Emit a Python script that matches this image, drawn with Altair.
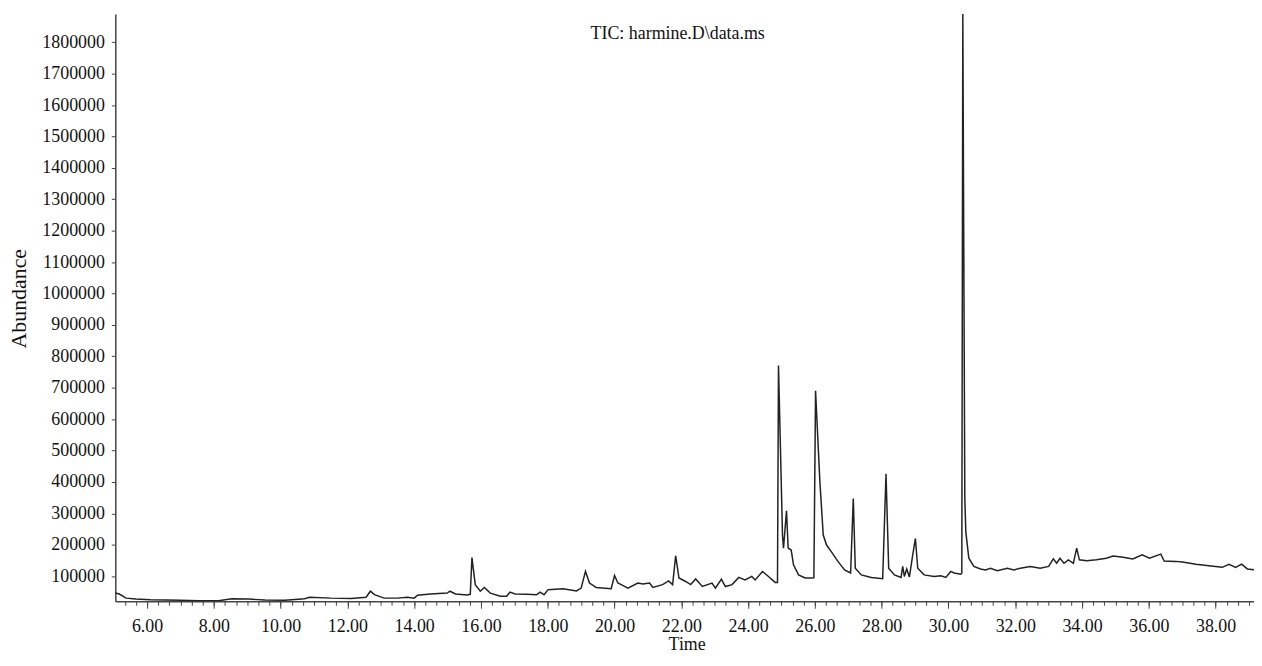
import altair as alt
import pandas as pd

# Retention time (min) and abundance (thousands of counts)
time_min = [
    5.05, 5.17, 5.37, 5.66, 6.10, 6.56, 7.00, 7.55, 8.14, 8.54, 9.04, 9.53,
    10.13, 10.72, 10.87, 11.51, 12.11, 12.56, 12.69, 12.81, 13.10, 13.50, 13.80,
    14.00, 14.10, 14.49, 14.99, 15.07, 15.24, 15.58, 15.68, 15.73, 15.83, 15.98,
    16.10, 16.28, 16.58, 16.77, 16.87, 17.02, 17.37, 17.67, 17.77, 17.89, 18.01,
    18.46, 18.86, 19.00, 19.13, 19.25, 19.45, 19.90, 20.00, 20.10, 20.20, 20.40,
    20.70, 20.85, 21.05, 21.15, 21.44, 21.62, 21.74, 21.83, 21.93, 22.13, 22.28,
    22.43, 22.63, 22.92, 23.02, 23.20, 23.32, 23.52, 23.72, 23.91, 24.11, 24.21,
    24.43, 24.61, 24.81, 24.88, 24.91, 25.03, 25.06, 25.15, 25.20, 25.29, 25.36,
    25.51, 25.71, 25.85, 25.97, 26.02, 26.15, 26.25, 26.35, 26.49, 26.69, 26.89,
    27.07, 27.15, 27.21, 27.39, 27.69, 28.03, 28.13, 28.21, 28.38, 28.58, 28.63,
    28.68, 28.75, 28.83, 28.93, 29.01, 29.08, 29.27, 29.57, 29.77, 29.92, 30.07,
    30.17, 30.37, 30.40, 30.43, 30.49, 30.52, 30.61, 30.76, 30.96, 31.11, 31.26,
    31.46, 31.76, 31.96, 32.15, 32.45, 32.75, 33.00, 33.14, 33.24, 33.34, 33.46,
    33.59, 33.74, 33.84, 33.92, 34.14, 34.43, 34.73, 34.93, 35.23, 35.52, 35.80,
    36.02, 36.36, 36.46, 36.81, 37.01, 37.41, 37.80, 38.20, 38.40, 38.60, 38.78,
    38.95, 39.15,
]
abundance_k = [
    46, 43, 30, 27, 25, 24, 23, 22, 22, 28, 27, 24,
    23, 28, 33, 30, 29, 33, 52, 41, 30, 30, 33,
    30, 39, 43, 46, 52, 43, 40, 42, 159, 73, 52,
    64, 46, 36, 36, 49, 43, 42, 41, 49, 41, 57,
    60, 53, 62, 115, 78, 64, 60, 102, 78, 73, 62,
    78, 75, 78, 64, 73, 85, 73, 165, 94, 83, 73,
    91, 67, 78, 62, 90, 67, 73, 96, 88, 99, 88,
    115, 99, 80, 80, 771, 230, 189, 308, 189, 183, 136,
    104, 94, 94, 95, 690, 400, 231, 199, 178, 147, 120,
    110, 347, 125, 104, 96, 92, 426, 125, 104, 96, 131,
    99, 123, 97, 168, 220, 125, 104, 99, 101, 96, 115,
    110, 106, 110, 1890, 347, 241, 157, 131, 123, 120, 125,
    117, 125, 120, 125, 131, 125, 131, 155, 141, 157, 141,
    152, 141, 189, 152, 149, 152, 157, 164, 160, 155, 168,
    157, 170, 148, 147, 145, 138, 133, 128, 138, 128, 138,
    123, 120,
]

x_major_ticks = [6, 8, 10, 12, 14, 16, 18, 20, 22, 24, 26, 28, 30, 32, 34, 36, 38]
x_minor_ticks = [round(5 + k / 3, 4) for k in range(1, 103)]
y_ticks = [100000, 200000, 300000, 400000, 500000, 600000, 700000, 800000, 900000,
           1000000, 1100000, 1200000, 1300000, 1400000, 1500000, 1600000, 1700000, 1800000]
chart_title = r"TIC: harmine.D\data.ms"

df = pd.DataFrame({"t": time_min, "v": [a * 1000 for a in abundance_k]})

FONT = "Liberation Serif"
AX = "#444444"

x_scale = alt.Scale(domain=[5.05, 39.15], nice=False, zero=False)
y_scale = alt.Scale(domain=[20000, 1890000], nice=False, zero=False)

y_axis = alt.Axis(
    values=y_ticks, format="d", grid=False, tickSize=4, labelPadding=7,
    labelFont=FONT, labelFontSize=18, labelColor="#111111", labelOverlap=False,
    domainColor=AX, domainWidth=1.5, tickColor=AX,
    title="Abundance", titleFont=FONT, titleFontSize=22, titleFontWeight="normal",
    titleColor="#111111", titleX=-90, titleY=286, titleBaseline="alphabetic",
    titleAlign="center",
)

x_axis_major = alt.Axis(
    values=x_major_ticks, format=".2f", grid=False, tickSize=7, labelPadding=9,
    labelFont=FONT, labelFontSize=18, labelColor="#111111", labelOverlap=False,
    labelFlush=False, domainColor=AX, domainWidth=1.5, tickColor=AX, orient="bottom",
    title="Time", titleFont=FONT, titleFontSize=18, titleFontWeight="normal",
    titleColor="#111111", titleX=575, titleY=49, titleBaseline="alphabetic",
    titleAlign="center",
)

x_axis_minor = alt.Axis(
    values=x_minor_ticks, labels=False, grid=False, tickSize=4, domain=False,
    tickColor=AX, orient="bottom", title=None,
)

line = alt.Chart(df).mark_line(color="#222222", strokeWidth=1.5, clip=True).encode(
    x=alt.X("t:Q", scale=x_scale, axis=x_axis_major),
    y=alt.Y("v:Q", scale=y_scale, axis=y_axis),
)

minor = alt.Chart(df).mark_line(opacity=0).encode(
    x=alt.X("t:Q", scale=x_scale, axis=x_axis_minor),
    y=alt.Y("v:Q", scale=y_scale, axis=y_axis),
)

title_df = pd.DataFrame({"label": [chart_title]})
title = alt.Chart(title_df).mark_text(
    font=FONT, fontSize=18, align="center", baseline="alphabetic", color="#111111"
).encode(x=alt.value(566), y=alt.value(25), text="label:N")

chart = (
    alt.layer(line, minor, title)
    .resolve_axis(x="independent")
    .properties(
        width=1146,
        height=591,
        autosize=alt.AutoSizeParams(type="none"),
        padding={"left": 108, "top": 4, "right": 0, "bottom": 50},
        background="white",
    )
    .configure_view(stroke=None)
)

chart.save("out.html", embed_options={"renderer": "svg", "actions": False})
